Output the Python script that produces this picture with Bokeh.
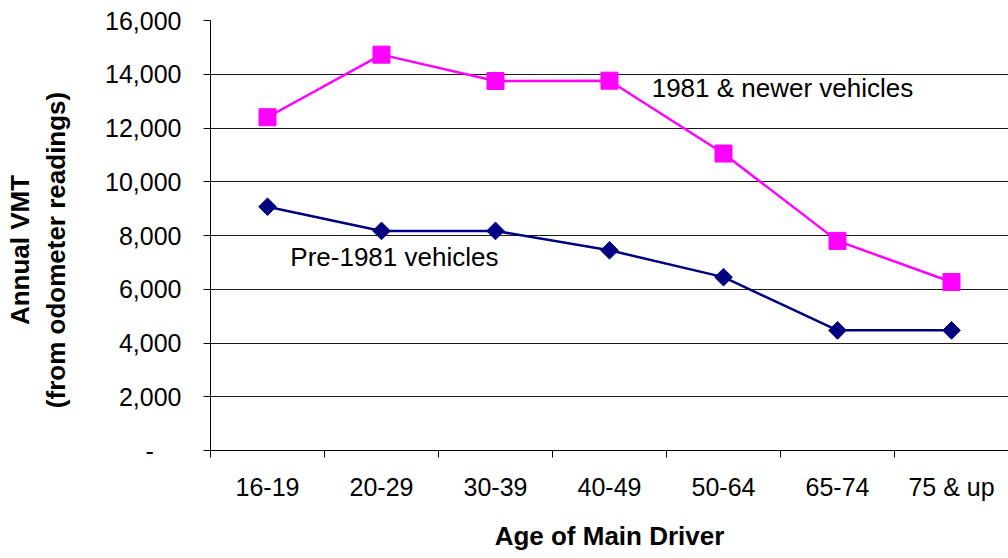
from bokeh.plotting import figure
from bokeh.models import Range1d, FixedTicker, NumeralTickFormatter, Label
from bokeh.embed import file_html
from bokeh.resources import INLINE
import numpy as np

categories = ["16-19", "20-29", "30-39", "40-49", "50-64", "65-74", "75 & up"]
newer_vmt = [12400, 14730, 13750, 13760, 11050, 7800, 6270]
pre1981_vmt = [9070, 8170, 8170, 7450, 6450, 4470, 4470]
y_ticks = [0, 2000, 4000, 6000, 8000, 10000, 12000, 14000, 16000]

FONT = "Liberation Sans"
xs = [i + 0.5 for i in range(len(categories))]
PAD = "\u00a0" * 4

p = figure(width=1008, height=558, output_backend="svg", toolbar_location=None,
           x_range=Range1d(0, len(categories)), y_range=Range1d(0, 16000),
           min_border_left=210, min_border_right=0, min_border_top=20,
           min_border_bottom=108)
p.outline_line_color = None
p.background_fill_color = "white"
p.border_fill_color = "white"

# grid
p.xgrid.grid_line_color = None
p.ygrid.grid_line_color = "#1a1a1a"
p.ygrid.grid_line_width = 1
p.ygrid.ticker = FixedTicker(ticks=y_ticks)

# x axis
xa = p.xaxis[0]
xa.ticker = FixedTicker(ticks=xs, minor_ticks=list(range(len(categories))))
xa.major_label_overrides = {x: c for x, c in zip(xs, categories)}
xa.major_tick_line_color = None
xa.major_tick_out = 7
xa.major_tick_in = 0
xa.minor_tick_line_color = "black"
xa.minor_tick_out = 7
xa.minor_tick_in = 0
xa.axis_line_color = "black"
xa.major_label_text_font = FONT
xa.major_label_text_font_size = "25px"
xa.major_label_text_color = "black"
xa.major_label_standoff = 15
xa.axis_label = "Age of Main Driver"
xa.axis_label_text_font = FONT
xa.axis_label_text_font_size = "26px"
xa.axis_label_text_font_style = "bold"
xa.axis_label_text_color = "black"
xa.axis_label_standoff = 17

# y axis
ya = p.yaxis[0]
ya.ticker = FixedTicker(ticks=y_ticks)
ya.formatter = NumeralTickFormatter(format="0,0")
ya.major_label_overrides = {0: "-" + PAD}
ya.major_tick_line_color = "black"
ya.major_tick_out = 7
ya.major_tick_in = 0
ya.minor_tick_line_color = None
ya.axis_line_color = "black"
ya.major_label_text_font = FONT
ya.major_label_text_font_size = "25px"
ya.major_label_text_color = "black"
ya.major_label_standoff = 22
ya.axis_label = "Annual VMT" + PAD + "\n(from odometer readings)" + PAD
ya.axis_label_text_font = FONT
ya.axis_label_text_font_size = "26px"
ya.axis_label_text_font_style = "bold"
ya.axis_label_text_color = "black"
ya.axis_label_text_line_height = 1.2
ya.axis_label_standoff = 31

# series
p.line(xs, newer_vmt, line_color="#FF00FF", line_width=2.5)
p.scatter(xs, newer_vmt, marker="square", size=17, fill_color="#FF00FF",
          line_color="#FF00FF")
p.line(xs, pre1981_vmt, line_color="#000080", line_width=2.5)
p.scatter(xs, pre1981_vmt, marker="square", angle=np.pi / 4, size=12.5,
          fill_color="#000080", line_color="#000080")

# annotations
p.add_layout(Label(x=3.87, y=13480, text="1981 & newer vehicles",
                   text_font=FONT, text_font_size="26px", text_color="black",
                   text_baseline="alphabetic"))
p.add_layout(Label(x=0.70, y=7210, text="Pre-1981 vehicles",
                   text_font=FONT, text_font_size="26px", text_color="black",
                   text_baseline="alphabetic"))

open("out.html", "w").write(file_html(p, INLINE))
